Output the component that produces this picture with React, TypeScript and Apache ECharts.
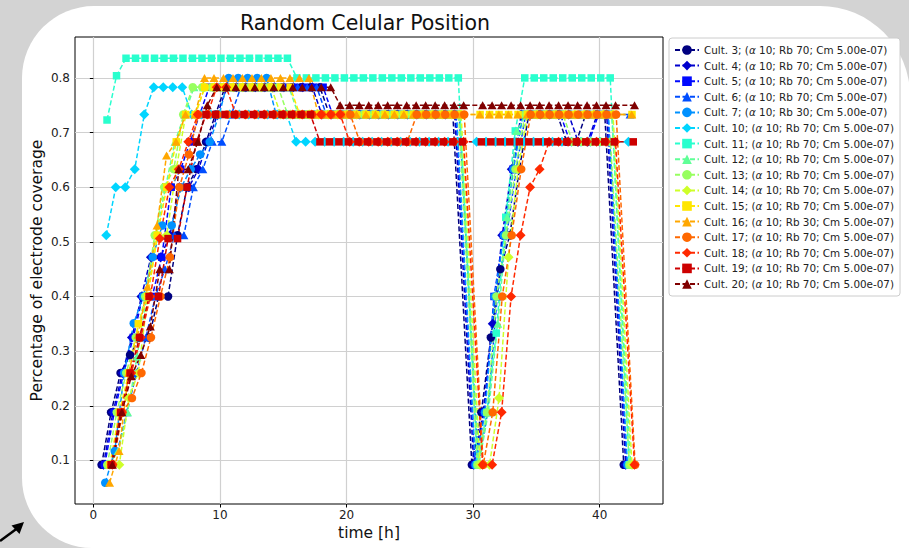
import { useEffect, useRef } from "react";
import * as echarts from "echarts";

const FONT = "'DejaVu Sans', Verdana, sans-serif";

// Common acquisition grid (h); every culture is shifted by its own start offset.
const TIME_GRID = [
  1.0, 1.75, 2.5, 3.25, 4.0, 4.75, 5.5, 6.25, 7.0, 7.75,
  8.5, 9.25, 10.0, 10.75, 11.5, 12.25, 13.0, 13.75, 14.5, 15.25,
  16.0, 16.75, 17.5, 18.25, 19.0, 19.75, 20.5, 21.25, 22.0, 22.75,
  23.5, 24.25, 25.0, 25.75, 26.5, 27.25, 28.0, 28.75,
  30.25, 31.0, 31.75, 32.5, 33.25, 34.0, 34.75, 35.5, 36.25, 37.0,
  37.75, 38.5, 39.25, 40.0, 40.75,
  42.25,
];

const CULTURES = [3, 4, 5, 6, 7, 10, 11, 12, 13, 14, 15, 16, 17, 18, 19, 20];
const RB_VALUES = [70, 70, 70, 70, 30, 70, 70, 70, 70, 70, 70, 30, 70, 70, 70, 70];
const ALPHA_VALUE = 10;
const CM_LABEL = "5.00e-07";
const START_SHIFT = [-0.35, -0.2, -0.1, 0.15, -0.06, 0.02, 0.08, 0.2, 0.1, 0.3, 0.3, 0.28, 0.55, 0.5, 0.4, 0.5];

const COLORS = [
  "#000080", "#0000cd", "#0009ff", "#004dff", "#0091ff", "#00d5ff", "#29ffce", "#60ff97",
  "#97ff60", "#ceff29", "#ffe600", "#ffa700", "#ff6800", "#ff2900", "#cd0000", "#800000",
];
const MARKERS = ["circle", "diamond", "rect", "triangle"];
const MARKER_SIZES: (number | number[])[] = [8.5, 10, 7.5, [9, 8]];

const X_TICKS = [0, 10, 20, 30, 40];
const Y_TICKS = [0.1, 0.2, 0.3, 0.4, 0.5, 0.6, 0.7, 0.8];

// Electrode coverage per culture, one value per grid sample
const CULT_3 = [
  0.092, 0.188, 0.26, 0.293, 0.325, 0.325, 0.4, 0.4, 0.512, 0.6,
  0.633, 0.683, 0.733, 0.783, 0.783, 0.783, 0.783, 0.783, 0.783, 0.783,
  0.783, 0.783, 0.783, 0.783, 0.733, 0.733, 0.733, 0.733, 0.733, 0.733,
  0.733, 0.733, 0.733, 0.733, 0.733, 0.733, 0.733, 0.733,
  0.092, 0.188, 0.325, 0.45, 0.512, 0.633, 0.733, 0.733, 0.733, 0.733,
  0.683, 0.683, 0.733, 0.733, 0.733,
  0.092,
];
const CULT_4 = [
  0.092, 0.188, 0.26, 0.325, 0.4, 0.472, 0.472, 0.512, 0.6, 0.6,
  0.633, 0.683, 0.733, 0.783, 0.783, 0.783, 0.783, 0.783, 0.783, 0.783,
  0.783, 0.783, 0.783, 0.733, 0.733, 0.733, 0.733, 0.733, 0.733, 0.733,
  0.733, 0.733, 0.733, 0.733, 0.733, 0.733, 0.733, 0.733,
  0.092, 0.188, 0.35, 0.512, 0.633, 0.733, 0.733, 0.733, 0.733, 0.733,
  0.733, 0.683, 0.683, 0.733, 0.733,
  0.092,
];
const CULT_5 = [
  0.092, 0.188, 0.26, 0.325, 0.4, 0.4, 0.472, 0.6, 0.633, 0.683,
  0.733, 0.783, 0.783, 0.783, 0.783, 0.783, 0.783, 0.783, 0.783, 0.783,
  0.783, 0.783, 0.783, 0.783, 0.733, 0.733, 0.733, 0.733, 0.733, 0.733,
  0.733, 0.733, 0.733, 0.733, 0.733, 0.733, 0.733, 0.733,
  0.092, 0.188, 0.4, 0.512, 0.633, 0.733, 0.733, 0.733, 0.733, 0.733,
  0.683, 0.683, 0.683, 0.733, 0.733,
  0.092,
];
const CULT_6 = [
  0.092, 0.117, 0.188, 0.26, 0.325, 0.4, 0.45, 0.512, 0.512, 0.6,
  0.633, 0.683, 0.683, 0.733, 0.783, 0.783, 0.783, 0.783, 0.783, 0.783,
  0.783, 0.783, 0.783, 0.733, 0.733, 0.733, 0.733, 0.733, 0.733, 0.733,
  0.733, 0.733, 0.733, 0.733, 0.733, 0.733, 0.733, 0.733,
  0.092, 0.188, 0.4, 0.512, 0.633, 0.733, 0.733, 0.733, 0.733, 0.733,
  0.733, 0.733, 0.733, 0.733, 0.733,
  0.733,
];
const CULT_7 = [
  0.059, 0.117, 0.26, 0.351, 0.4, 0.472, 0.53, 0.53, 0.6, 0.633,
  0.66, 0.683, 0.733, 0.8, 0.8, 0.8, 0.8, 0.8, 0.733, 0.733,
  0.733, 0.733, 0.733, 0.733, 0.733, 0.733, 0.733, 0.733, 0.733, 0.733,
  0.733, 0.733, 0.733, 0.733, 0.733, 0.733, 0.733, 0.733,
  0.092, 0.188, 0.4, 0.512, 0.633, 0.733, 0.733, 0.733, 0.733, 0.733,
  0.733, 0.733, 0.733, 0.733, 0.733,
  0.092,
];
const CULT_10 = [
  0.512, 0.6, 0.6, 0.633, 0.733, 0.783, 0.783, 0.783, 0.783, 0.733,
  0.733, 0.733, 0.733, 0.733, 0.733, 0.733, 0.733, 0.733, 0.733, 0.733,
  0.683, 0.683, 0.683, 0.683, 0.683, 0.683, 0.683, 0.683, 0.683, 0.683,
  0.683, 0.683, 0.683, 0.683, 0.683, 0.683, 0.683, 0.683,
  0.683, 0.683, 0.683, 0.683, 0.683, 0.683, 0.683, 0.683, 0.683, 0.683,
  0.683, 0.683, 0.683, 0.683, 0.683,
  0.683,
];
const CULT_11 = [
  0.723, 0.804, 0.836, 0.836, 0.836, 0.836, 0.836, 0.836, 0.836, 0.836,
  0.836, 0.836, 0.836, 0.836, 0.836, 0.836, 0.836, 0.836, 0.836, 0.836,
  0.8, 0.8, 0.8, 0.8, 0.8, 0.8, 0.8, 0.8, 0.8, 0.8,
  0.8, 0.8, 0.8, 0.8, 0.8, 0.8, 0.8, 0.8,
  0.092, 0.188, 0.333, 0.545, 0.703, 0.8, 0.8, 0.8, 0.8, 0.8,
  0.8, 0.8, 0.8, 0.8, 0.8,
  0.092,
];
const CULT_12 = [
  0.092, 0.117, 0.188, 0.29, 0.4, 0.512, 0.6, 0.683, 0.733, 0.783,
  0.783, 0.783, 0.783, 0.783, 0.783, 0.783, 0.783, 0.783, 0.783, 0.783,
  0.733, 0.733, 0.733, 0.733, 0.733, 0.733, 0.733, 0.733, 0.733, 0.733,
  0.733, 0.733, 0.733, 0.733, 0.733, 0.733, 0.733, 0.733,
  0.092, 0.188, 0.35, 0.545, 0.703, 0.733, 0.733, 0.733, 0.733, 0.733,
  0.733, 0.733, 0.733, 0.733, 0.733,
  0.092,
];
const CULT_13 = [
  0.092, 0.188, 0.26, 0.325, 0.4, 0.512, 0.6, 0.633, 0.733, 0.783,
  0.783, 0.783, 0.783, 0.783, 0.783, 0.783, 0.783, 0.783, 0.783, 0.733,
  0.733, 0.733, 0.733, 0.733, 0.733, 0.733, 0.733, 0.733, 0.733, 0.733,
  0.733, 0.733, 0.733, 0.733, 0.733, 0.733, 0.733, 0.733,
  0.092, 0.188, 0.4, 0.512, 0.633, 0.733, 0.733, 0.733, 0.733, 0.733,
  0.683, 0.683, 0.683, 0.683, 0.683,
  0.092,
];
const CULT_14 = [
  0.092, 0.092, 0.214, 0.26, 0.4, 0.512, 0.512, 0.633, 0.733, 0.733,
  0.783, 0.783, 0.783, 0.783, 0.783, 0.783, 0.783, 0.783, 0.733, 0.733,
  0.733, 0.733, 0.733, 0.733, 0.733, 0.733, 0.733, 0.733, 0.733, 0.733,
  0.733, 0.733, 0.733, 0.733, 0.733, 0.733, 0.733, 0.733,
  0.092, 0.092, 0.214, 0.472, 0.633, 0.733, 0.733, 0.733, 0.733, 0.733,
  0.733, 0.733, 0.733, 0.733, 0.733,
  0.092,
];
const CULT_15 = [
  0.092, 0.188, 0.26, 0.35, 0.4, 0.512, 0.6, 0.683, 0.733, 0.733,
  0.783, 0.783, 0.783, 0.783, 0.783, 0.783, 0.783, 0.783, 0.783, 0.783,
  0.733, 0.733, 0.733, 0.733, 0.733, 0.733, 0.733, 0.733, 0.733, 0.733,
  0.733, 0.733, 0.733, 0.733, 0.733, 0.733, 0.733, 0.733,
  0.733, 0.733, 0.733, 0.733, 0.733, 0.733, 0.733, 0.733, 0.733, 0.733,
  0.733, 0.733, 0.733, 0.733, 0.733,
  0.733,
];
const CULT_16 = [
  0.059, 0.117, 0.26, 0.33, 0.418, 0.53, 0.658, 0.683, 0.733, 0.733,
  0.8, 0.8, 0.8, 0.8, 0.8, 0.8, 0.8, 0.8, 0.8, 0.8,
  0.8, 0.8, 0.733, 0.733, 0.733, 0.733, 0.733, 0.733, 0.733, 0.733,
  0.733, 0.733, 0.733, 0.733, 0.733, 0.733, 0.733, 0.733,
  0.733, 0.733, 0.733, 0.733, 0.733, 0.733, 0.733, 0.733, 0.733, 0.733,
  0.733, 0.733, 0.733, 0.733, 0.733,
  0.733,
];
const CULT_17 = [
  0.092, 0.188, 0.214, 0.26, 0.325, 0.4, 0.472, 0.6, 0.66, 0.733,
  0.733, 0.733, 0.733, 0.733, 0.733, 0.733, 0.733, 0.733, 0.733, 0.733,
  0.733, 0.733, 0.733, 0.733, 0.733, 0.733, 0.683, 0.683, 0.683, 0.683,
  0.683, 0.683, 0.733, 0.733, 0.733, 0.733, 0.733, 0.733,
  0.092, 0.188, 0.4, 0.512, 0.633, 0.733, 0.733, 0.733, 0.733, 0.733,
  0.733, 0.733, 0.733, 0.733, 0.733,
  0.092,
];
const CULT_18 = [
  0.092, 0.188, 0.26, 0.325, 0.4, 0.506, 0.6, 0.633, 0.683, 0.733,
  0.733, 0.783, 0.783, 0.733, 0.733, 0.733, 0.733, 0.733, 0.733, 0.733,
  0.733, 0.733, 0.733, 0.733, 0.733, 0.683, 0.683, 0.683, 0.683, 0.683,
  0.683, 0.683, 0.683, 0.683, 0.683, 0.683, 0.683, 0.683,
  0.092, 0.092, 0.188, 0.4, 0.512, 0.6, 0.633, 0.683, 0.683, 0.683,
  0.683, 0.683, 0.683, 0.683, 0.683,
  0.092,
];
const CULT_19 = [
  0.092, 0.188, 0.26, 0.325, 0.4, 0.4, 0.506, 0.506, 0.6, 0.683,
  0.733, 0.733, 0.733, 0.733, 0.733, 0.733, 0.733, 0.733, 0.733, 0.733,
  0.733, 0.733, 0.683, 0.683, 0.683, 0.683, 0.683, 0.683, 0.683, 0.683,
  0.683, 0.683, 0.683, 0.683, 0.683, 0.683, 0.683, 0.683,
  0.683, 0.683, 0.683, 0.683, 0.683, 0.683, 0.683, 0.683, 0.683, 0.683,
  0.683, 0.683, 0.683, 0.683, 0.683,
  0.683,
];
const CULT_20 = [
  0.092, 0.188, 0.254, 0.293, 0.345, 0.45, 0.45, 0.633, 0.633, 0.683,
  0.75, 0.783, 0.783, 0.783, 0.783, 0.783, 0.783, 0.783, 0.783, 0.783,
  0.783, 0.783, 0.783, 0.783, 0.75, 0.75, 0.75, 0.75, 0.75, 0.75,
  0.75, 0.75, 0.75, 0.75, 0.75, 0.75, 0.75, 0.75,
  0.75, 0.75, 0.75, 0.75, 0.75, 0.75, 0.75, 0.75, 0.75, 0.75,
  0.75, 0.75, 0.75, 0.75, 0.75,
  0.75,
];

const COVERAGE = [
  CULT_3, CULT_4, CULT_5, CULT_6, CULT_7, CULT_10, CULT_11, CULT_12,
  CULT_13, CULT_14, CULT_15, CULT_16, CULT_17, CULT_18, CULT_19, CULT_20,
];

const seriesName = (k: number) =>
  `Cult. ${CULTURES[k]}; (α ${ALPHA_VALUE}; Rb ${RB_VALUES[k]}; Cm ${CM_LABEL})`;

export default function App() {
  const ref = useRef<HTMLDivElement>(null);

  useEffect(() => {
    if (!ref.current) return;
    const chart = echarts.init(ref.current, undefined, { renderer: "svg" });

    const series = COVERAGE.map((values, k) => ({
      type: "line",
      name: seriesName(k),
      data: values.map((v, i) => [TIME_GRID[i] + START_SHIFT[k], v]),
      symbol: MARKERS[k % 4],
      symbolSize: MARKER_SIZES[k % 4],
      showSymbol: true,
      showAllSymbol: true,
      lineStyle: { color: COLORS[k], width: 1.5, type: [5, 2.5] },
      itemStyle: { color: COLORS[k], borderWidth: 0 },
      emphasis: { disabled: true },
      z: 2,
    }));

    chart.setOption({
      animation: false,
      backgroundColor: "#d3d3d3",
      textStyle: { fontFamily: FONT },
      title: {
        text: "Random Celular Position",
        left: 360,
        top: 7,
        textAlign: "center",
        textStyle: { fontFamily: FONT, fontSize: 20.5, fontWeight: "normal", color: "#111" },
      },
      graphic: {
        elements: [
          {
            type: "rect",
            z: -10,
            shape: { x: 22, y: 6, width: 888, height: 542, r: [72, 90, 0, 70] },
            style: { fill: "#ffffff" },
            silent: true,
          },
          {
            type: "line",
            z: 10,
            shape: { x1: 0, y1: 541, x2: 17, y2: 528.5 },
            style: { stroke: "#000", lineWidth: 2.5 },
            silent: true,
          },
          {
            type: "polygon",
            z: 10,
            shape: { points: [[24, 522], [11.5, 525.5], [19.5, 534]] },
            style: { fill: "#000" },
            silent: true,
          },
        ],
      },
      grid: {
        left: 75,
        top: 37,
        width: 588,
        height: 467,
        show: true,
        borderColor: "#000",
        borderWidth: 1,
        backgroundColor: "#fff",
      },
      legend: {
        orient: "vertical",
        left: 669,
        top: 38,
        itemWidth: 24,
        itemHeight: 12,
        itemGap: 3.6,
        padding: [6, 6, 6, 5],
        backgroundColor: "#fff",
        borderColor: "#cccccc",
        borderWidth: 1,
        borderRadius: 3,
        selectedMode: false,
        data: COVERAGE.map((_, k) => seriesName(k)),
        formatter: (name: string) => name.replace("α", "{al|α}"),
        textStyle: {
          fontFamily: FONT,
          fontSize: 10.4,
          color: "#222",
          lineHeight: 12,
          rich: { al: { fontFamily: FONT, fontSize: 10.4, fontStyle: "italic", color: "#222" } },
        },
      },
      xAxis: {
        type: "value",
        min: -1.45,
        max: 45,
        minInterval: 10,
        maxInterval: 10,
        name: "time [h]",
        nameLocation: "middle",
        nameGap: 21,
        nameMoveOverlap: false,
        nameTextStyle: { fontFamily: FONT, fontSize: 15.5, color: "#111" },
        axisLine: { show: false },
        axisTick: { show: true, length: 3.5, customValues: X_TICKS, lineStyle: { color: "#000", width: 1 } },
        axisLabel: {
          customValues: X_TICKS,
          fontFamily: FONT,
          fontSize: 12,
          color: "#222",
          margin: 5,
        },
        splitLine: { show: true, lineStyle: { color: "#d0d0d0", width: 1.2 } },
      },
      yAxis: {
        type: "value",
        min: 0.0202,
        max: 0.8749,
        minInterval: 0.1,
        maxInterval: 0.1,
        name: "Percentage of electrode coverage",
        nameLocation: "middle",
        nameGap: 30,
        nameMoveOverlap: false,
        nameTextStyle: { fontFamily: FONT, fontSize: 15.5, color: "#111" },
        axisLine: { show: false },
        axisTick: { show: true, length: 3.5, customValues: Y_TICKS, lineStyle: { color: "#000", width: 1 } },
        axisLabel: {
          customValues: Y_TICKS,
          formatter: (v: number) => v.toFixed(1),
          fontFamily: FONT,
          fontSize: 12,
          color: "#222",
          margin: 5,
        },
        splitLine: { show: true, lineStyle: { color: "#d0d0d0", width: 1.2 } },
      },
      series,
    });

    return () => chart.dispose();
  }, []);

  return (
    <div
      ref={ref}
      style={{ position: "fixed", left: 0, top: 0, width: 909, height: 548 }}
    />
  );
}
